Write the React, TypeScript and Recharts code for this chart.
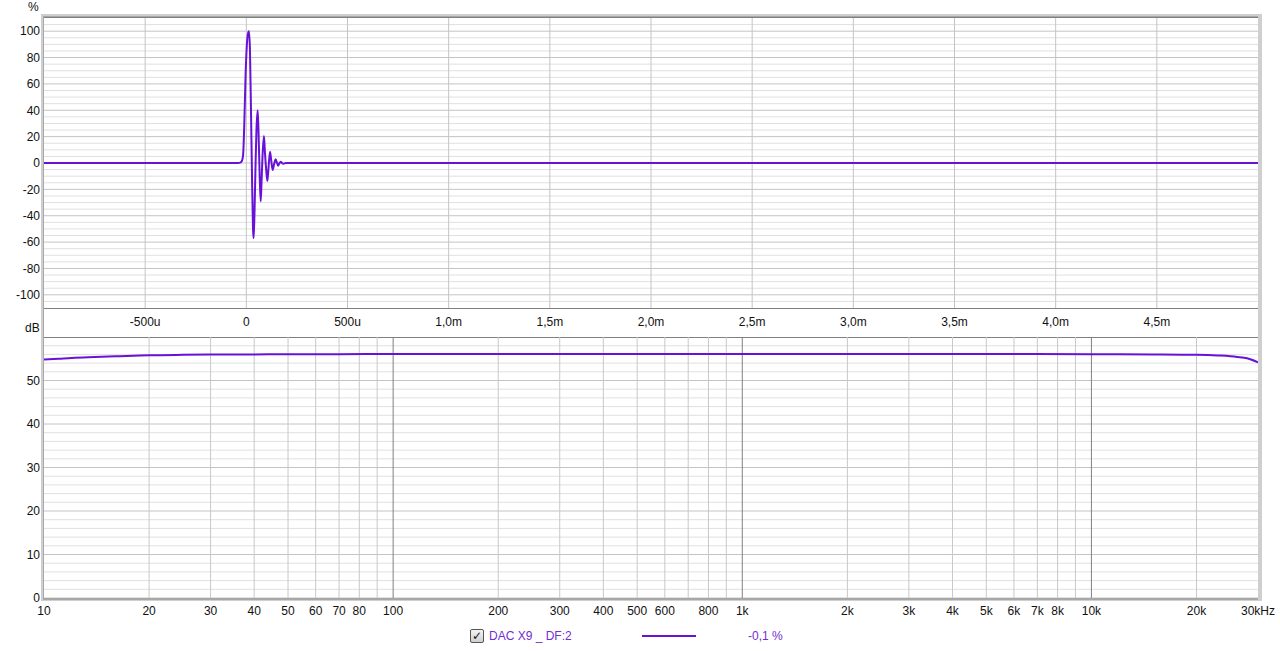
import { LineChart, Line, XAxis, YAxis, ReferenceLine } from 'recharts';

// impulse response, time in microseconds, amplitude in %
const impulseTimes = [
  -1000, -40, -30, -22, -16, -10, -4, 2, 8, 13, 18, 23, 28, 33, 36, 40, 45, 50, 56, 60, 66, 71, 75, 80, 87, 92,
  98, 104, 110, 117, 123, 130, 137, 145, 151, 157, 163, 170, 176, 183, 195, 5000,
];
const impulseValues = [
  0, 0, 0.3, 1.5, 6, 30, 65, 88, 98, 100, 85, 40, -10, -50, -57, -40, -5, 25, 40, 25, -10, -29, -15, 5, 20.4, 8,
  -5, -13.6, -3, 8.5, 2, -5.3, -1, 2.8, 0.3, -2, -0.3, 1, 0, -0.5, 0, 0,
];

// frequency response, Hz / dB
const freqs = [10, 11, 12, 14, 16, 20, 25, 30, 40, 50, 70, 100, 200, 500, 1000, 2000, 5000, 10000, 15000, 20000, 23000, 25000, 27000, 28500, 30000];
const levels = [54.8, 55.0, 55.2, 55.4, 55.55, 55.8, 55.9, 55.95, 56.0, 56.05, 56.05, 56.1, 56.1, 56.1, 56.1, 56.1, 56.1, 56.05, 56.0, 55.9, 55.75, 55.6, 55.3, 54.9, 54.2];

const timeTicks = [-500, 0, 500, 1000, 1500, 2000, 2500, 3000, 3500, 4000, 4500];
const pctTicks = [100, 80, 60, 40, 20, 0, -20, -40, -60, -80, -100];
const pctMinor = [105, 95, 90, 85, 75, 70, 65, 55, 50, 45, 35, 30, 25, 15, 10, 5, -5, -10, -15, -25, -30, -35, -45, -50, -55, -65, -70, -75, -85, -90, -95, -105];
const freqTicks = [10, 20, 30, 40, 50, 60, 70, 80, 100, 200, 300, 400, 500, 600, 800, 1000, 2000, 3000, 4000, 5000, 6000, 7000, 8000, 10000, 20000, 30000];
const freqGrid = [20, 30, 40, 50, 60, 70, 80, 90, 200, 300, 400, 500, 600, 700, 800, 900, 2000, 3000, 4000, 5000, 6000, 7000, 8000, 9000, 20000];
const freqDecades = [100, 1000, 10000];
const dbTicks = [0, 10, 20, 30, 40, 50];
const dbMinor = [2, 4, 6, 8, 12, 14, 16, 18, 22, 24, 26, 28, 32, 34, 36, 38, 42, 44, 46, 48, 52, 54, 56, 58];

const impulseData = impulseTimes.map((t, i) => ({ t, v: impulseValues[i] }));
const freqData = freqs.map((f, i) => ({ f, db: levels[i] }));

const PURPLE = '#6812d8';
const tickStyle = { fontSize: 12, fill: '#111' };

const fmtTime = (v: number) => {
  if (v === 0) return '0';
  if (Math.abs(v) < 1000) return `${v}u`;
  return `${(v / 1000).toFixed(1).replace('.', ',')}m`;
};
const fmtFreq = (v: number) => {
  if (v === 30000) return '30kHz';
  if (v >= 1000) return `${v / 1000}k`;
  return `${v}`;
};

const abs = (l: number, t: number, w: number, h: number, extra: any = {}) => ({
  position: 'absolute' as const,
  left: l,
  top: t,
  width: w,
  height: h,
  ...extra,
});

export default function App() {
  return (
    <div
      style={{
        position: 'absolute',
        left: 0,
        top: 0,
        width: 1280,
        height: 651,
        background: '#fff',
        fontFamily: '"Liberation Sans", Arial, sans-serif',
        overflow: 'hidden',
      }}
    >
      {/* frame */}
      <div style={abs(41, 14, 1221, 587, { background: '#cfcfcf' })} />
      <div style={abs(43, 16, 1215, 584, { background: '#a8a8a8' })} />
      <div style={abs(44, 18, 1214, 580, { background: '#fff' })} />
      <div style={abs(44, 17, 1214, 1, { background: '#808080' })} />
      <div style={abs(44, 308, 1214, 1, { background: '#808080' })} />
      <div style={abs(44, 337, 1214, 1, { background: '#808080' })} />
      <div style={abs(44, 598, 1214, 1, { background: '#8a8a8a' })} />

      <div style={abs(28, 0, 20, 14, { fontSize: 12, color: '#111' })}>%</div>
      <div style={abs(25, 321, 20, 14, { fontSize: 12, color: '#111' })}>dB</div>

      <div style={abs(0, 0, 1280, 330)}>
        <LineChart width={1280} height={330} data={impulseData} margin={{ top: 18, right: 22, bottom: 0, left: 4 }}>
          <XAxis
            dataKey="t"
            type="number"
            domain={[-1000, 5000]}
            allowDataOverflow
            ticks={timeTicks}
            interval={0}
            tickFormatter={fmtTime}
            tick={tickStyle}
            tickLine={false}
            axisLine={false}
            tickSize={0}
            tickMargin={9}
            height={22}
          />
          <YAxis
            type="number"
            domain={[-110, 110]}
            allowDataOverflow
            ticks={pctTicks}
            interval={0}
            tick={tickStyle}
            tickLine={false}
            axisLine={false}
            tickSize={0}
            tickMargin={4}
            width={40}
          />
          {pctMinor.map((v) => (
            <ReferenceLine key={`pm${v}`} y={v} stroke="#e0e0e0" />
          ))}
          {pctTicks.map((v) => (
            <ReferenceLine key={`pt${v}`} y={v} stroke="#c4c4c4" />
          ))}
          {timeTicks.map((v) => (
            <ReferenceLine key={`tt${v}`} x={v} stroke="#c4c4c4" />
          ))}
          <Line
            dataKey="v"
            type="monotone"
            stroke={PURPLE}
            strokeWidth={2}
            dot={false}
            isAnimationActive={false}
          />
        </LineChart>
      </div>

      <div style={abs(0, 320, 1280, 331)}>
        <LineChart width={1280} height={331} data={freqData} margin={{ top: 17, right: 22, bottom: 33, left: 4 }}>
          <XAxis
            dataKey="f"
            type="number"
            scale="log"
            domain={[10, 30000]}
            allowDataOverflow
            ticks={freqTicks}
            interval={0}
            tickFormatter={fmtFreq}
            tick={tickStyle}
            tickLine={false}
            axisLine={false}
            tickSize={0}
            tickMargin={8}
            height={20}
          />
          <YAxis
            type="number"
            domain={[0, 60]}
            allowDataOverflow
            ticks={dbTicks}
            interval={0}
            tick={tickStyle}
            tickLine={false}
            axisLine={false}
            tickSize={0}
            tickMargin={4}
            width={40}
          />
          {dbMinor.map((v) => (
            <ReferenceLine key={`dm${v}`} y={v} stroke="#e0e0e0" />
          ))}
          {dbTicks.map((v) => (
            <ReferenceLine key={`dt${v}`} y={v} stroke="#c4c4c4" />
          ))}
          {freqGrid.map((v) => (
            <ReferenceLine key={`fg${v}`} x={v} stroke="#c8c8c8" />
          ))}
          {freqDecades.map((v) => (
            <ReferenceLine key={`fd${v}`} x={v} stroke="#808080" />
          ))}
          <Line
            dataKey="db"
            type="monotone"
            stroke={PURPLE}
            strokeWidth={2}
            dot={false}
            isAnimationActive={false}
          />
        </LineChart>
      </div>

      {/* legend */}
      <div
        style={abs(470, 629, 12, 12, {
          border: '1px solid #555',
          borderRadius: 2,
          background: 'linear-gradient(#f4f4f4, #cfcfcf)',
          fontSize: 12,
          lineHeight: '12px',
          textAlign: 'center',
          fontWeight: 'bold',
          color: '#111',
          fontFamily: '"DejaVu Sans", sans-serif',
        })}
      >
        ✓
      </div>
      <div style={abs(489, 629, 120, 16, { fontSize: 12, color: '#7030d0', whiteSpace: 'nowrap' })}>DAC X9 _ DF:2</div>
      <div style={abs(642, 635, 54, 2, { background: PURPLE })} />
      <div style={abs(748, 629, 60, 16, { fontSize: 12, color: '#7030d0', whiteSpace: 'nowrap' })}>-0,1 %</div>
    </div>
  );
}
